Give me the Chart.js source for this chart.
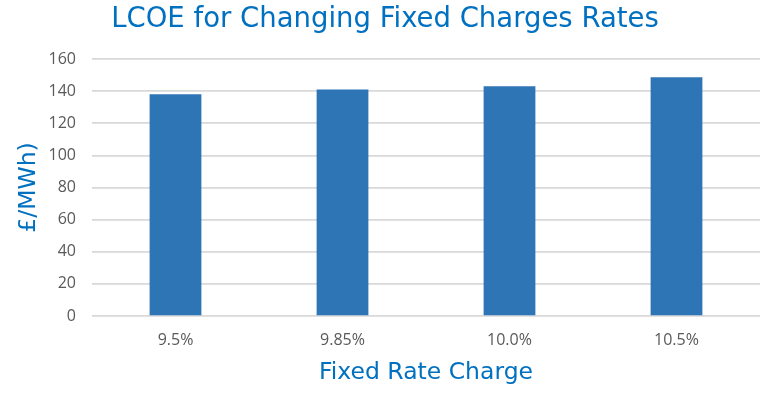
<!DOCTYPE html>
<html>
<head>
<meta charset="utf-8">
<script src="https://cdn.jsdelivr.net/npm/chart.js@4"></script>
<style>
  html, body { margin: 0; padding: 0; background: #fff; }
  #wrap { width: 778px; height: 396px; }
</style>
</head>
<body>
<div id="wrap"><canvas id="lcoe-chart" width="778" height="396"></canvas></div>
<script>
const categorias = ['9.5%', '9.85%', '10.0%', '10.5%'];
const valoresLcoe = [138, 141, 143, 148.6];

const tituloGrafico = 'LCOE for Changing Fixed Charges Rates';
const tituloEixoX = 'Fixed Rate Charge';
const tituloEixoY = '£/MWh)';

const azulTitulo = '#0070C0';
const azulBarra = '#2E75B6';
const cinzaTexto = '#595959';

const ctx = document.getElementById('lcoe-chart').getContext('2d');

new Chart(ctx, {
  type: 'bar',
  data: {
    labels: categorias,
    datasets: [{
      label: 'LCOE',
      data: valoresLcoe,
      backgroundColor: azulBarra,
      borderWidth: 0,
      barPercentage: 0.31,
      categoryPercentage: 1.0
    }]
  },
  options: {
    responsive: false,
    animation: false,
    layout: { padding: { left: 10, right: 18, top: 0, bottom: 0 } },
    plugins: {
      legend: { display: false },
      tooltip: { enabled: false },
      title: {
        display: true,
        text: tituloGrafico,
        color: azulTitulo,
        font: { family: 'DejaVu Sans', size: 27.5, weight: 'normal' },
        padding: { top: 3, bottom: 23 }
      }
    },
    scales: {
      x: {
        grid: { display: false, drawTicks: false },
        border: { display: false },
        ticks: { color: cinzaTexto, font: { family: 'Open Sans', size: 16 }, padding: 15 },
        title: {
          display: true,
          text: tituloEixoX,
          color: azulTitulo,
          font: { family: 'DejaVu Sans', size: 23.5 },
          padding: { top: 0, bottom: 9 }
        },
        afterFit: (scale) => { scale.height = 80; }
      },
      y: {
        min: 0,
        max: 160,
        grid: { color: '#D9D9D9', lineWidth: 1.7, drawTicks: false },
        border: { display: false },
        ticks: { stepSize: 20, color: cinzaTexto, font: { family: 'Open Sans', size: 16 }, padding: 16 },
        title: {
          display: true,
          text: tituloEixoY,
          color: azulTitulo,
          font: { family: 'DejaVu Sans', size: 23.5 },
          padding: { top: 5, bottom: 0 }
        },
        afterFit: (scale) => { scale.width = 82; }
      }
    }
  }
});
</script>
</body>
</html>
